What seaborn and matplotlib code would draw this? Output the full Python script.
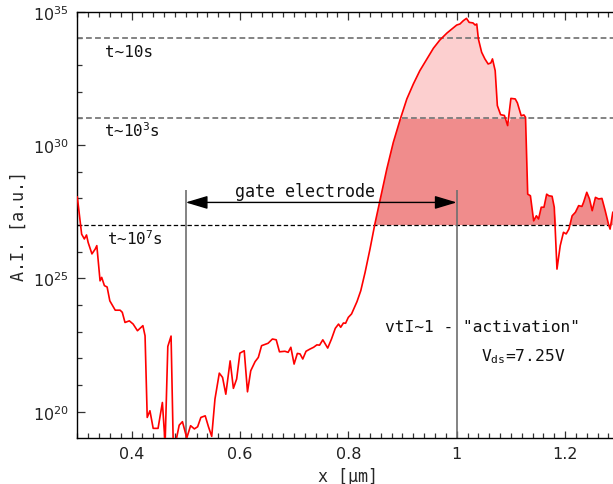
import matplotlib
matplotlib.use("Agg")
import numpy as np
import pandas as pd
import matplotlib.pyplot as plt
import seaborn as sns
from matplotlib.ticker import FixedLocator, NullFormatter, LogFormatterSciNotation, MultipleLocator

# Position along the channel [um]
x_um = [
    0.300, 0.308, 0.313, 0.317, 0.320, 0.327, 0.333, 0.336, 0.342, 0.345,
    0.350, 0.355, 0.360, 0.370, 0.379, 0.383, 0.388, 0.396, 0.403, 0.411,
    0.421, 0.425, 0.429, 0.434, 0.440, 0.449, 0.457, 0.462, 0.467, 0.473,
    0.477, 0.482, 0.488, 0.494, 0.502, 0.509, 0.516, 0.522, 0.528, 0.536,
    0.542, 0.548, 0.554, 0.562, 0.568, 0.574, 0.582, 0.588, 0.594, 0.600,
    0.608, 0.614, 0.620, 0.628, 0.634, 0.640, 0.652, 0.660, 0.667, 0.673,
    0.683, 0.689, 0.694, 0.700, 0.706, 0.711, 0.716, 0.722, 0.729, 0.736,
    0.742, 0.747, 0.753, 0.762, 0.769, 0.776, 0.782, 0.786, 0.791, 0.795,
    0.800, 0.806, 0.816, 0.823, 0.831, 0.840, 0.849, 0.859, 0.871, 0.883,
    0.896, 0.908, 0.920, 0.932, 0.945, 0.957, 0.969, 0.982, 0.991, 1.000,
    1.006, 1.012, 1.018, 1.023, 1.030, 1.034, 1.037, 1.040, 1.046, 1.052,
    1.058, 1.063, 1.066, 1.071, 1.075, 1.081, 1.088, 1.094, 1.100, 1.108,
    1.112, 1.119, 1.124, 1.127, 1.131, 1.136, 1.142, 1.147, 1.151, 1.156,
    1.161, 1.166, 1.170, 1.176, 1.180, 1.185, 1.191, 1.197, 1.202, 1.207,
    1.213, 1.219, 1.225, 1.231, 1.234, 1.240, 1.245, 1.250, 1.256, 1.262,
    1.268, 1.274, 1.280, 1.283, 1.288, 1.295,
]

# Avalanche integral, as log10 of A.I. [a.u.]
log10_ai = [
    28.06, 26.66, 26.48, 26.63, 26.35, 25.92, 26.10, 26.23, 24.91, 25.04,
    24.73, 24.68, 24.16, 23.81, 23.81, 23.73, 23.35, 23.41, 23.29, 23.04,
    23.23, 22.85, 19.79, 20.04, 19.38, 19.38, 20.35, 18.80, 22.45, 22.84,
    18.80, 18.90, 19.50, 19.63, 19.02, 19.48, 19.36, 19.44, 19.79, 19.85,
    19.44, 19.08, 20.48, 21.45, 21.29, 20.66, 21.91, 20.88, 21.23, 22.20,
    22.29, 20.75, 21.54, 21.88, 22.04, 22.48, 22.57, 22.73, 22.70, 22.25,
    22.27, 22.23, 22.42, 21.79, 22.19, 22.17, 21.98, 22.27, 22.35, 22.42,
    22.51, 22.50, 22.70, 22.39, 22.73, 23.13, 23.29, 23.17, 23.33, 23.32,
    23.54, 23.67, 24.13, 24.54, 25.23, 26.10, 27.04, 27.98, 29.10, 30.10,
    30.98, 31.73, 32.29, 32.79, 33.23, 33.63, 33.94, 34.20, 34.35, 34.50,
    34.54, 34.66, 34.75, 34.60, 34.58, 34.50, 34.54, 33.98, 33.48, 33.23,
    33.04, 33.08, 33.23, 32.79, 31.48, 31.14, 31.11, 30.73, 31.75, 31.73,
    31.58, 31.10, 31.13, 31.04, 28.16, 28.10, 27.16, 27.35, 27.23, 27.67,
    27.67, 28.16, 28.10, 28.08, 27.67, 25.35, 26.23, 26.73, 26.67, 26.85,
    27.35, 27.48, 27.73, 27.70, 27.85, 28.23, 27.98, 27.54, 28.04, 27.98,
    28.00, 27.54, 27.04, 26.85, 27.48, 27.60,
]

# Lifetime thresholds (log10 of A.I.) and their labels
level_exponents = [34, 31, 27]
level_labels = ["t~10s", r"t~$\mathdefault{10^{3}}$s", r"t~$\mathdefault{10^{7}}$s"]

# Gate electrode extent [um]
gate_edges = [0.5, 1.0]

# Only the drain-side region is shaded
shade_from_um = 0.8

y_major_exponents = [20, 25, 30, 35]

df = pd.DataFrame({"x": x_um, "ai": np.power(10.0, log10_ai)})

sns.set_style("ticks")
plt.rcParams.update({
    "font.family": ["DejaVu Sans"],
    "xtick.direction": "in",
    "ytick.direction": "in",
    "xtick.major.size": 5.4,
    "ytick.major.size": 5.6,
    "xtick.minor.size": 3.6,
    "ytick.minor.size": 3.4,
    "xtick.major.width": 0.9,
    "ytick.major.width": 0.9,
    "xtick.minor.width": 0.9,
    "ytick.minor.width": 0.9,
    "xtick.color": "#333333",
    "ytick.color": "#333333",
    "xtick.labelcolor": "#222222",
    "ytick.labelcolor": "#222222",
    "axes.edgecolor": "black",
    "axes.linewidth": 1.0,
})

mono = "DejaVu Sans Mono"
fig = plt.figure(figsize=(6.13, 4.85), dpi=100)
ax = fig.add_axes([77.3 / 613, 46.3 / 485, 542 / 613, 426 / 485])

ymin, ymax = 10 ** 19.03, 1e35
ax.set_yscale("log")
ax.set_xlim(0.3, 1.3)
ax.set_ylim(ymin, ymax)

ai = df["ai"].to_numpy()
xs = df["x"].to_numpy()
hi, mid, lo = (10.0 ** e for e in level_exponents)
region = xs > shade_from_um

# Shaded bands above the lifetime thresholds
ax.fill_between(xs, lo, np.minimum(ai, mid), where=(ai > lo) & region, interpolate=True,
                color="#f08c8c", linewidth=0, zorder=1)
ax.fill_between(xs, mid, ai, where=(ai > mid) & region, interpolate=True,
                color="#fccfcf", linewidth=0, zorder=1)

# Threshold lines
ax.axhline(hi, color="#7a7a7a", lw=1.3, ls=(0, (3.2, 1.8)), zorder=2)
ax.axhline(mid, color="#7a7a7a", lw=1.3, ls=(0, (3.2, 1.8)), zorder=2)
ax.axhline(lo, color="black", lw=0.9, ls=(0, (3.5, 2.0)), zorder=2)

sns.lineplot(data=df, x="x", y="ai", color="red", lw=1.2, ax=ax, zorder=3)

text_pos = [(0.351, 10 ** 33.35), (0.349, 10 ** 30.35), (0.355, 10 ** 26.29)]
for (tx, ty), lab in zip(text_pos, level_labels):
    ax.text(tx, ty, lab, family=mono, fontsize=11.5, ha="left", va="baseline",
            color="#111111", zorder=4)

# Gate electrode markers
ax.vlines(gate_edges, ymin, 10 ** 28.3, color="#6e6e6e", lw=1.2, zorder=2.5)
ax.annotate("", xy=(gate_edges[0], 10 ** 27.85), xytext=(gate_edges[1], 10 ** 27.85),
            arrowprops=dict(arrowstyle="<|-|>,head_length=0.9,head_width=0.27",
                            color="black", lw=1.0, shrinkA=0, shrinkB=0,
                            mutation_scale=15), zorder=4)
ax.text(0.72, 10 ** 28.1, "gate electrode", family=mono, fontsize=12,
        ha="center", va="baseline", color="#111111", zorder=4)

ax.text(1.0476, 10 ** 23.04, 'vtI~1 - "activation"', family=mono, fontsize=11.7,
        ha="center", va="baseline", color="#111111", zorder=4)
ax.text(1.122, 10 ** 21.94, r"V$_{\mathdefault{ds}}$=7.25V", family=mono, fontsize=11.7,
        ha="center", va="baseline", color="#111111", zorder=4)

# Axes, ticks and labels
ax.xaxis.set_major_locator(MultipleLocator(0.2))
ax.xaxis.set_minor_locator(MultipleLocator(0.02))
ax.xaxis.set_major_formatter(matplotlib.ticker.FuncFormatter(
    lambda v, p: ("%.1f" % v).rstrip("0").rstrip(".")))
ax.yaxis.set_major_locator(FixedLocator([10.0 ** e for e in y_major_exponents]))
ax.yaxis.set_major_formatter(LogFormatterSciNotation(base=10))
ax.yaxis.set_minor_locator(FixedLocator([10.0 ** e for e in range(19, 36)
                                          if e not in y_major_exponents]))
ax.yaxis.set_minor_formatter(NullFormatter())
ax.tick_params(axis="both", which="both", top=True, right=False, labelsize=11.5)
ax.tick_params(axis="x", which="major", pad=6)
ax.tick_params(axis="y", which="major", pad=6)

ax.spines["right"].set_visible(False)
ax.set_xlabel("x [µm]", family=mono, fontsize=12, labelpad=4)
ax.set_ylabel("A.I. [a.u.]", family=mono, fontsize=12, labelpad=4)

fig.savefig("out.png", dpi=100)
